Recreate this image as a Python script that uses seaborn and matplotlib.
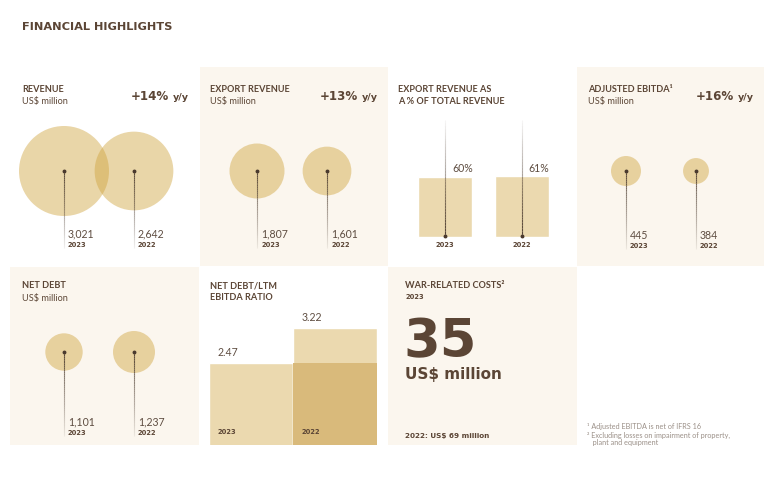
import numpy as np
import matplotlib
matplotlib.use('Agg')
import matplotlib.pyplot as plt
import seaborn as sns
from matplotlib.patches import Rectangle, Circle
from matplotlib.collections import LineCollection
from matplotlib.colors import to_rgb

# data
years = ['2023', '2022']
revenue = [3021, 2642]
export_revenue = [1807, 1601]
export_share = [60, 61]
adj_ebitda = [445, 384]
net_debt = [1101, 1237]
debt_ratio = [2.47, 3.22]
war_costs_2023 = 35
war_costs_2022 = 69
footnotes = ['\u00b9 Adjusted EBITDA is net of IFRS 16',
             '\u00b2 Excluding losses on impairment of property,',
             '   plant and equipment']

TEXT = '#5B4535'
VALUE = '#5E4D41'
CREAM = '#FBF6EE'
BUBBLE = '#D0A43E'
LIGHT = '#EBD9AF'
DARK = '#D9BA7B'
LINE = '#4A3A2E'
FOOT = '#9B9088'
WIDE = 'DejaVu Sans'

sns.set_theme(style='white')
plt.rcParams['font.family'] = ['Lato', 'DejaVu Sans']

W, H = 764, 478
fig = plt.figure(figsize=(W / 100, H / 100), dpi=100)
fig.patch.set_facecolor('white')

# background axes in pixel coordinates
bg = fig.add_axes([0, 0, 1, 1])
bg.set_xlim(0, W)
bg.set_ylim(H, 0)
bg.axis('off')


def fig_rect(x0, y0, x1, y1):
    return [x0 / W, (H - y1) / H, (x1 - x0) / W, (y1 - y0) / H]


def fade_line(ax, x, y0, y1, a0=0.9, a1=0.08, n=40, lw=0.8):
    ys = np.linspace(y0, y1, n + 1)
    segs = [[(x, ys[i]), (x, ys[i + 1])] for i in range(n)]
    cols = [(*to_rgb(LINE), a) for a in np.linspace(a0, a1, n)]
    ax.add_collection(LineCollection(segs, colors=cols, linewidths=lw))


def heading(x, y, line1, line2=None, sub_bold=False):
    bg.text(x, y, line1, fontsize=6.6, fontweight='bold', color=TEXT,
            va='center', ha='left')
    if line2:
        if sub_bold:
            bg.text(x, y + 11, line2, fontsize=4.9, fontweight='bold',
                    family=WIDE, color=TEXT, va='center')
        else:
            bg.text(x, y + 12, line2, fontsize=6.6, color=TEXT,
                    va='center', ha='left')


def growth_tag(x_right, y, vals):
    pct = round((vals[0] / vals[1] - 1) * 100)
    bg.text(x_right, y + 1, 'y/y', fontsize=6.8, fontweight='bold',
            family=WIDE, color=TEXT, ha='right', va='center')
    bg.text(x_right - 20, y, f'+{pct}%', fontsize=8.6, fontweight='bold',
            family=WIDE, color=TEXT, ha='right', va='center')


def bubbles(vals, xs, cy, label_y, max_r):
    top = max(vals)
    for v, yr, cx in zip(vals, years, xs):
        bg.add_patch(Circle((cx, cy), max_r * v / top, facecolor=BUBBLE,
                            alpha=0.45, lw=0, zorder=2))
        fade_line(bg, cx, cy, label_y + 14)
        bg.plot(cx, cy, 'o', ms=1.8, color=LINE, zorder=4)
        bg.text(cx + 4, label_y, f'{v:,}', fontsize=7.6, color=VALUE,
                ha='left', va='center', zorder=5)
        bg.text(cx + 4, label_y + 11, yr, fontsize=4.9, fontweight='bold',
                family=WIDE, color=TEXT, ha='left', va='center', zorder=5)


# panels
for x0, y0, x1, y1 in [(200, 67, 388, 266), (577, 67, 764, 266),
                       (10, 267, 199, 445), (388, 267, 577, 445)]:
    bg.add_patch(Rectangle((x0, y0), x1 - x0, y1 - y0, facecolor=CREAM,
                           lw=0, zorder=0))

bg.text(22, 27, 'FINANCIAL HIGHLIGHTS', fontsize=8.2, fontweight='bold',
        family=WIDE, color=TEXT, va='center')

# revenue
heading(22, 89, 'REVENUE', 'US$ million')
growth_tag(189, 96, revenue)
bubbles(revenue, [64, 134], 171, 234, 45)

# export revenue
heading(210, 89, 'EXPORT REVENUE', 'US$ million')
growth_tag(378, 96, export_revenue)
bubbles(export_revenue, [257, 327], 171, 234, 27.5)

# export share
heading(398, 89, 'EXPORT REVENUE AS')
heading(398, 101, 'A % OF TOTAL REVENUE')
ax_sh = fig.add_axes(fig_rect(388, 120, 576, 237))
ax_sh.set_facecolor('none')
sns.barplot(x=years, y=export_share, color=LIGHT, saturation=1, width=0.706,
            ax=ax_sh, zorder=1)
ax_sh.set_xlim(-0.745, 1.712)
ax_sh.set_ylim(0, 117)
for i, (v, yr) in enumerate(zip(export_share, years)):
    fade_line(ax_sh, i, 0, 117, a0=0.95, a1=0.05)
    ax_sh.plot(i, 0.8, 'o', ms=1.8, color=LINE, zorder=4, clip_on=False)
    ax_sh.text(i + 0.09, v + 8, f'{v}%', fontsize=7.6, color=VALUE,
               ha='left', va='center')
    ax_sh.text(i, -0.068, yr, transform=ax_sh.get_xaxis_transform(),
               fontsize=4.9, fontweight='bold', family=WIDE, color=TEXT,
               ha='center', va='center')
ax_sh.axis('off')

# adjusted EBITDA
heading(588, 89, 'ADJUSTED EBITDA\u00b9', 'US$ million')
growth_tag(754, 96, adj_ebitda)
bubbles(adj_ebitda, [626, 696], 171, 235, 15)

# net debt
heading(22, 286, 'NET DEBT', 'US$ million')
bubbles(net_debt, [64, 134], 352, 422, 21)

# net debt / LTM EBITDA
heading(210, 286, 'NET DEBT/LTM')
heading(210, 297, 'EBITDA RATIO')
ax_r = fig.add_axes(fig_rect(209, 267, 377, 445))
ax_r.set_facecolor('none')
sns.barplot(x=years, y=debt_ratio, color=LIGHT, saturation=1, width=1,
            ax=ax_r)
ax_r.bar(1, min(debt_ratio), width=1, color=DARK, lw=0)
ax_r.set_xlim(-0.5, 1.5)
ax_r.set_ylim(0.713, 4.53)
for i, (v, yr) in enumerate(zip(debt_ratio, years)):
    ax_r.text(i - 0.4, v + 0.235, f'{v:.2f}', fontsize=7.6, color=VALUE,
              ha='left', va='center')
    ax_r.text(i - 0.4, 0.073, yr, transform=ax_r.get_xaxis_transform(),
              fontsize=4.9, fontweight='bold', family=WIDE, color=TEXT,
              ha='left', va='center')
ax_r.axis('off')

# war-related costs
heading(405, 286, 'WAR-RELATED COSTS\u00b2', '2023', sub_bold=True)
bg.text(403, 342, f'{war_costs_2023}', fontsize=38, fontweight='bold',
        family=WIDE, color=TEXT, ha='left', va='center')
bg.text(405, 375, 'US$ million', fontsize=11, fontweight='bold',
        family=WIDE, color=TEXT, ha='left', va='center')
bg.text(405, 436, f'2022: US$ {war_costs_2022} million', fontsize=5.2,
        fontweight='bold', family=WIDE, color=TEXT, ha='left', va='center')

# footnotes
for k, note in enumerate(footnotes):
    bg.text(587, 427 + 8 * k, note, fontsize=5.2, color=FOOT,
            ha='left', va='center')

fig.savefig('out.png', dpi=100)
